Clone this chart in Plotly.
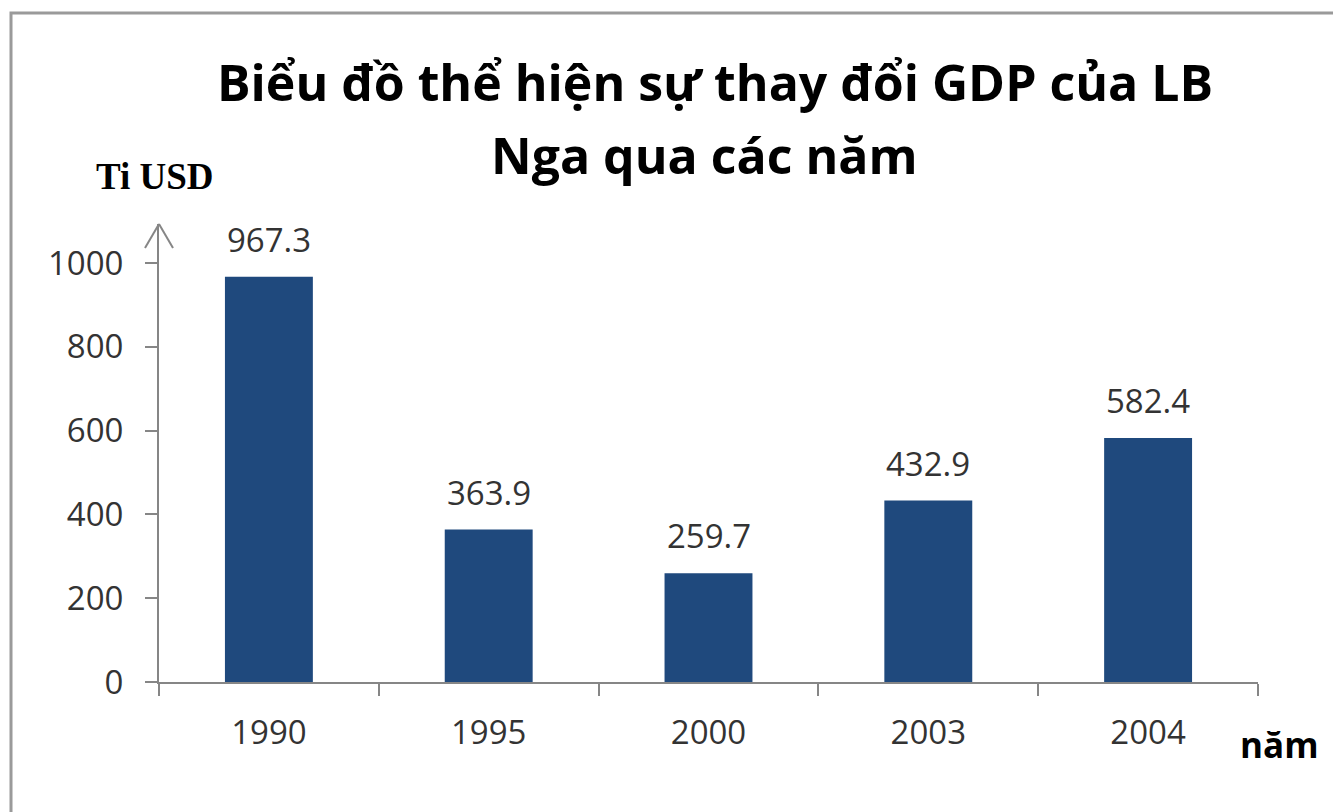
import plotly.graph_objects as go

years = ["1990", "1995", "2000", "2003", "2004"]
gdp = [967.3, 363.9, 259.7, 432.9, 582.4]
y_ticks = [0, 200, 400, 600, 800, 1000]
title_lines = ["Biểu đồ thể hiện sự thay đổi GDP của LB", "Nga qua các năm"]
y_unit = "Ti USD"
x_unit = "năm"

OFF = 8  # page body margin
W, H = 1341 - OFF, 812 - OFF
L = 159 - OFF
T = 224 - OFF
R = W - (1258 - OFF)
B = H - (682 - OFF)
pw, ph = W - L - R, H - T - B
ymax = 1000 * ph / 419.0

def px_x(x):
    return (x - OFF - L) / pw

def px_y(y):
    return (H + OFF - B - y) / ph

fig = go.Figure()
fig.add_trace(go.Bar(
    x=years, y=gdp, marker_color="#1F497D", marker_line_width=0,
    hoverinfo="x+y",
))

for i, v in enumerate(gdp):
    fig.add_annotation(x=i, y=v, text=f"{v:.1f}", showarrow=False,
                       xref="x", yref="y",
                       yanchor="bottom", yshift=13,
                       font=dict(family="Open Sans", size=33, color="#333333"))

fig.add_annotation(xref="paper", yref="paper", x=px_x(715), y=px_y(82),
                   text=f"<b>{title_lines[0]}</b>", showarrow=False,
                   xanchor="center", yanchor="middle",
                   font=dict(family="Open Sans", size=50, color="#000000"))
fig.add_annotation(xref="paper", yref="paper", x=px_x(704), y=px_y(155),
                   text=f"<b>{title_lines[1]}</b>", showarrow=False,
                   xanchor="center", yanchor="middle",
                   font=dict(family="Open Sans", size=50, color="#000000"))
fig.add_annotation(xref="paper", yref="paper", x=px_x(155), y=px_y(177),
                   text=f"<b>{y_unit}</b>", showarrow=False,
                   xanchor="center", yanchor="middle",
                   font=dict(family="Liberation Serif", size=37, color="#000000"))
fig.add_annotation(xref="paper", yref="paper", x=px_x(1279), y=px_y(744),
                   text=f"<b>{x_unit}</b>", showarrow=False,
                   xanchor="center", yanchor="middle",
                   font=dict(family="Open Sans", size=35, color="#000000"))

# arrow head on y axis
for dx in (-14, 14):
    fig.add_shape(type="line", xref="paper", yref="paper",
                  x0=0, y0=1, x1=px_x(159 + dx), y1=px_y(224 + 24),
                  line=dict(color="#868686", width=2))

# outer frame
fig.add_shape(type="rect", xref="paper", yref="paper",
              x0=px_x(11), y0=px_y(812 + 50), x1=px_x(1341 + 50), y1=px_y(13),
              line=dict(color="#9a9a9a", width=3), layer="below")

fig.update_layout(
    width=W, height=H, autosize=False,
    margin=dict(l=L, r=R, t=T, b=B, pad=0),
    paper_bgcolor="white", plot_bgcolor="white",
    showlegend=False, bargap=0.6,
    font=dict(family="Open Sans", color="#333333"),
)
fig.update_xaxes(
    type="category", range=[-0.5, 4.5], showline=True, linecolor="#868686",
    linewidth=2, ticks="outside", tickson="boundaries", ticklen=12,
    tickcolor="#868686", tickwidth=2, showgrid=False, zeroline=False,
    tickfont=dict(family="Open Sans", size=33, color="#333333"),
    ticklabelstandoff=20,
)
fig.update_yaxes(
    range=[0, ymax], tickvals=y_ticks, showline=True, linecolor="#868686",
    linewidth=2, ticks="outside", ticklen=12, tickcolor="#868686",
    tickwidth=2, showgrid=False, zeroline=False,
    tickfont=dict(family="Open Sans", size=33, color="#333333"),
    ticklabelstandoff=15,
)

fig.write_html("out.html")
